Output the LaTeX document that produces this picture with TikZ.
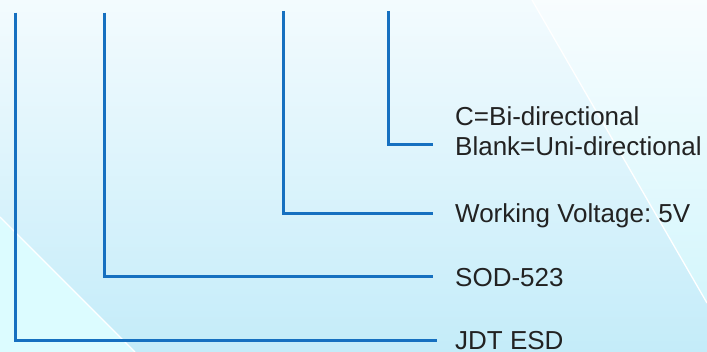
\documentclass[tikz,border=0pt]{standalone}
\usepackage{fontspec}
\setmainfont{Liberation Sans}
\frenchspacing
\definecolor{linkblue}{RGB}{22,112,192}
\definecolor{txtcol}{RGB}{34,34,34}
\definecolor{bgtop}{RGB}{243,251,254}
\definecolor{bgbot}{RGB}{196,236,249}
\definecolor{cyanlt}{RGB}{220,252,255}
\definecolor{cyanmid}{RGB}{212,246,252}
\begin{document}
\begin{tikzpicture}[x=1pt,y=-1pt,
  conn/.style={draw=linkblue,line width=3pt,line cap=butt,line join=miter},
  lbl/.style={anchor=west,inner xsep=22pt,inner ysep=0pt,text height=18.6pt,text depth=0pt,
    font=\fontsize{26}{28}\selectfont,text=txtcol},
  glint/.style={draw=white,line width=1.3pt}]
\useasboundingbox (0,0) rectangle (707,352);
% background
\shade[top color=bgtop,bottom color=bgbot] (0,0) rectangle (707,352);
\fill[cyanlt] (0,217) -- (135,352) -- (0,352) -- cycle;
\shade[top color=bgtop!60!white,bottom color=cyanmid] (532,0) -- (707,0) -- (707,303) -- cycle;
\draw[glint] (0,217) -- (135,352);
\draw[glint] (532,0) -- (707,303);
% labels
\node[lbl] (bi) at (433,116.7) {C=Bi-directional};
\node[lbl] (uni) at (433,146.7) {Blank=Uni-directional};
\node[lbl] (volt) at (433,213.5) {Working Voltage: 5V};
\node[lbl] (sod) at (433,277) {SOD-523};
\node[lbl,inner xsep=18pt] (jdt) at (437,340.5) {JDT ESD};
% connector tops
\coordinate (t1) at (15,12.7);
\coordinate (t2) at (104,12.7);
\coordinate (t3) at (283,11);
\coordinate (t4) at (388.3,11);
% connectors
\draw[conn] (t4) |- ([yshift=2.4pt]uni.west);
\draw[conn] (t3) |- (volt.west);
\draw[conn] (t2) |- (sod.west);
\draw[conn] (t1) |- (jdt.west);
\end{tikzpicture}
\end{document}
